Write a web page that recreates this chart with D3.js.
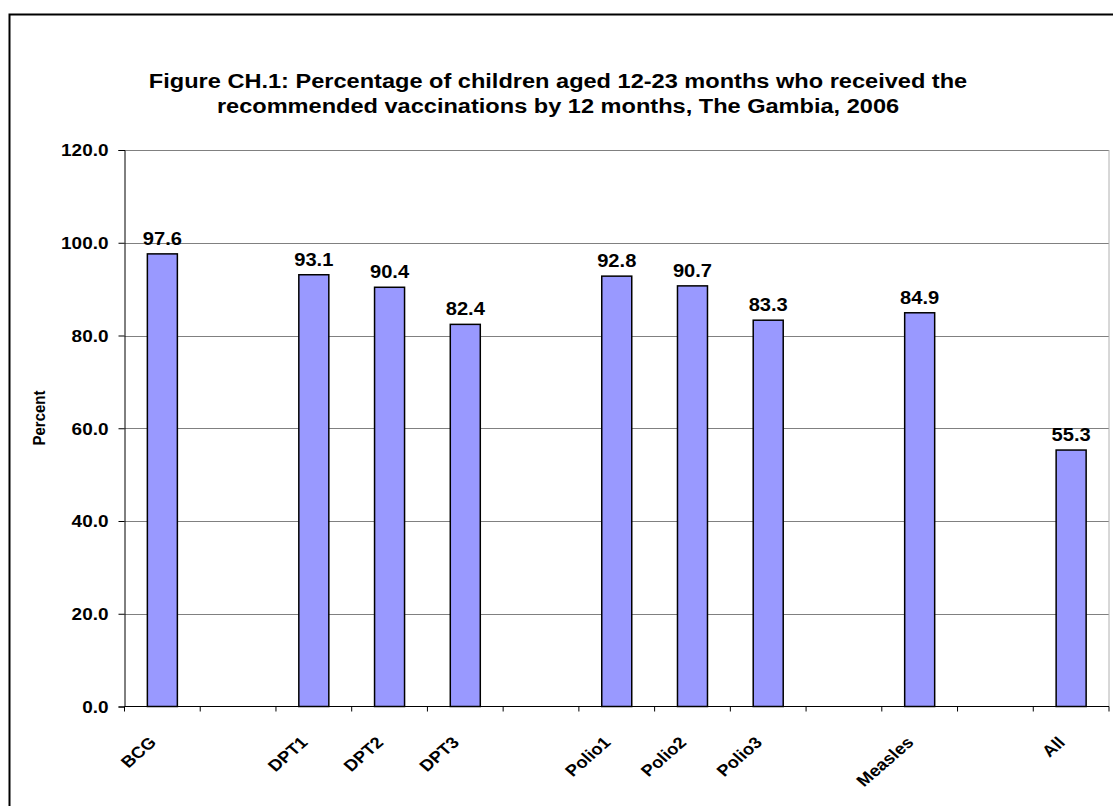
<!DOCTYPE html>
<html>
<head>
<meta charset="utf-8">
<script src="https://cdn.jsdelivr.net/npm/d3@7/dist/d3.min.js"></script>
<style>
  body { margin: 0; background: #fff; }
  text { font-family: "Liberation Sans", Arial, sans-serif; font-weight: bold; fill: #000; }
</style>
</head>
<body>
<div id="chart"></div>
<script>
// categories (blank slots keep the grouping gaps of the original)
var categories = ["BCG", "", "DPT1", "DPT2", "DPT3", " ", "Polio1", "Polio2", "Polio3", "  ", "Measles", "   ", "All"];
var values = [97.6, null, 93.1, 90.4, 82.4, null, 92.8, 90.7, 83.3, null, 84.9, null, 55.3];
var yTicks = [0, 20, 40, 60, 80, 100, 120];
var titleLines = [
  "Figure CH.1: Percentage of children aged 12-23 months who received the",
  "recommended vaccinations by 12 months, The Gambia, 2006"
];

var W = 1113, H = 806;
var pLeft = 124.5, pRight = 1109, pTop = 150, pBottom = 706.5;
// the original text is a little wider than Arial, stretch it sideways
var sx = 1.15;
function at(px, py, extra) {
  return "translate(" + px + "," + py + ") scale(" + sx + ",1)" + (extra ? " " + extra : "");
}

var svg = d3.select("#chart").append("svg")
  .attr("width", W).attr("height", H);

// outer frame
svg.append("rect")
  .attr("x", 9.5).attr("y", 14.5)
  .attr("width", W + 20).attr("height", H + 20)
  .attr("fill", "none").attr("stroke", "#000").attr("stroke-width", 2);

// title
svg.append("g").selectAll("text")
  .data(titleLines).enter().append("text")
  .attr("transform", function(d, i) { return at(558, 88 + i * 25); })
  .attr("text-anchor", "middle")
  .style("font-size", "20.5px")
  .text(function(d) { return d; });

var x = d3.scaleBand().domain(categories).range([pLeft, pRight]).paddingInner(0).paddingOuter(0);
var y = d3.scaleLinear().domain([0, 120]).range([pBottom, pTop]);

// gridlines
svg.append("g").selectAll("line")
  .data(yTicks.filter(function(t) { return t > 0; })).enter().append("line")
  .attr("x1", pLeft).attr("x2", pRight)
  .attr("y1", function(d) { return Math.round(y(d)) + 0.5; })
  .attr("y2", function(d) { return Math.round(y(d)) + 0.5; })
  .attr("stroke", "#808080").attr("stroke-width", 1.2);

// right plot edge
svg.append("line")
  .attr("x1", pRight).attr("x2", pRight).attr("y1", pTop).attr("y2", pBottom)
  .attr("stroke", "#b0b0b0");

// bars
var bw = 30;
var bars = svg.append("g").selectAll("g")
  .data(d3.zip(categories, values).filter(function(v) { return v[1] !== null; }))
  .enter().append("g");

bars.append("rect")
  .attr("x", function(v) { return x(v[0]) + x.bandwidth() / 2 - bw / 2; })
  .attr("y", function(v) { return y(v[1]); })
  .attr("width", bw)
  .attr("height", function(v) { return pBottom - y(v[1]); })
  .attr("fill", "#9999ff").attr("stroke", "#000").attr("stroke-width", 1.5);

bars.append("text")
  .attr("transform", function(v) { return at(x(v[0]) + x.bandwidth() / 2, y(v[1]) - 9); })
  .attr("text-anchor", "middle")
  .style("font-size", "17.5px")
  .text(function(v) { return v[1].toFixed(1); });

// y axis
var yAxis = d3.axisLeft(y).tickValues(yTicks).tickSize(6)
  .tickFormat(function(d) { return d.toFixed(1); });
var gy = svg.append("g").attr("transform", "translate(" + pLeft + ",0)").call(yAxis);
gy.select(".domain").attr("stroke", "#000");
gy.selectAll(".tick line").attr("stroke", "#000");
gy.selectAll(".tick text")
  .attr("x", 0).attr("dy", "0.35em")
  .attr("transform", at(-16, 0))
  .style("font-size", "16.5px")
  .style("font-family", "'Liberation Sans', Arial, sans-serif").attr("font-weight", "bold");

// x axis line + ticks at slot boundaries
svg.append("line")
  .attr("x1", pLeft).attr("x2", pRight).attr("y1", pBottom).attr("y2", pBottom)
  .attr("stroke", "#000");
var bounds = categories.map(function(c) { return x(c); }).concat([pRight]);
svg.append("g").selectAll("line")
  .data(bounds).enter().append("line")
  .attr("x1", function(d) { return d; }).attr("x2", function(d) { return d; })
  .attr("y1", pBottom).attr("y2", pBottom + 5)
  .attr("stroke", "#000");

// category labels
svg.append("g").selectAll("text")
  .data(categories.filter(function(c) { return c.trim() !== ""; })).enter().append("text")
  .attr("transform", function(c) {
    return at(x(c) + x.bandwidth() / 2 - 5, pBottom + 37, "rotate(-45)");
  })
  .attr("text-anchor", "end")
  .style("font-size", "16px")
  .text(function(c) { return c; });

// y axis title
svg.append("text")
  .attr("transform", at(45, 418, "rotate(-90)"))
  .attr("text-anchor", "middle")
  .style("font-size", "15px")
  .text("Percent");
</script>
</body>
</html>
